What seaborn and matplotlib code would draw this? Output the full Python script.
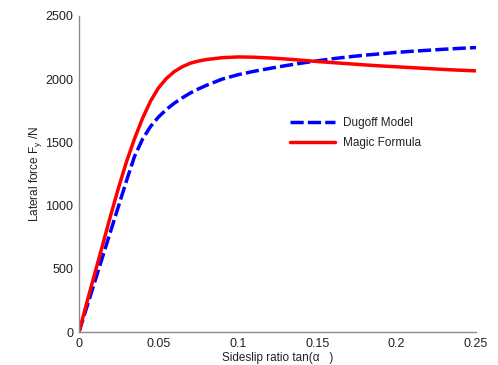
import numpy as np
import pandas as pd
import matplotlib
matplotlib.use("Agg")
import matplotlib.pyplot as plt
import seaborn as sns

# Sideslip ratio samples and lateral tyre force for each model
slip_magic = [0, 0.005, 0.01, 0.015, 0.02, 0.025, 0.03, 0.035, 0.04, 0.045, 0.05,
              0.055, 0.06, 0.065, 0.07, 0.075, 0.08, 0.09, 0.1, 0.11, 0.12, 0.13,
              0.14, 0.15, 0.16, 0.17, 0.18, 0.19, 0.2, 0.21, 0.22, 0.23, 0.24, 0.25]
force_magic = [0, 235, 465, 695, 925, 1145, 1350, 1530, 1690, 1825, 1930,
               2005, 2060, 2098, 2126, 2143, 2155, 2170, 2176, 2174, 2168, 2160,
               2150, 2140, 2131, 2122, 2113, 2105, 2098, 2091, 2084, 2077, 2071, 2066]

slip_dugoff = [0, 0.005, 0.01, 0.015, 0.02, 0.025, 0.03, 0.035, 0.04, 0.045, 0.05,
               0.055, 0.06, 0.065, 0.07, 0.075, 0.08, 0.09, 0.1, 0.11, 0.12, 0.13,
               0.14, 0.15, 0.16, 0.17, 0.18, 0.19, 0.2, 0.21, 0.22, 0.23, 0.24, 0.25]
force_dugoff = [0, 200, 400, 600, 800, 1000, 1200, 1390, 1525, 1625, 1700,
                1760, 1810, 1852, 1890, 1922, 1950, 2000, 2035, 2062, 2085, 2107,
                2127, 2145, 2162, 2177, 2190, 2201, 2212, 2221, 2229, 2237, 2244, 2250]

xticks = [0, 0.05, 0.1, 0.15, 0.2, 0.25]
xtick_labels = ["0", "0.05", "0.1", "0.15", "0.2", "0.25"]
yticks = [0, 500, 1000, 1500, 2000, 2500]

sns.set_style("white")
plt.rcParams["font.family"] = ["Liberation Sans", "DejaVu Sans"]

fig = plt.figure(figsize=(4.98, 3.65), dpi=100)
ax = fig.add_axes([0.1586, 0.0904, 0.7972, 0.8658])

df_d = pd.DataFrame({"slip": slip_dugoff, "force": force_dugoff})
df_m = pd.DataFrame({"slip": slip_magic, "force": force_magic})

sns.lineplot(data=df_d, x="slip", y="force", ax=ax, color="#0000ff",
             linewidth=2.5, label="Dugoff Model")
ax.lines[-1].set_dashes([3.8, 1.2])
sns.lineplot(data=df_m, x="slip", y="force", ax=ax, color="#ff0000",
             linewidth=2.5, label="Magic Formula")

ax.set_xlim(0, 0.25)
ax.set_ylim(0, 2500)
ax.set_xticks(xticks)
ax.set_xticklabels(xtick_labels)
ax.set_yticks(yticks)

spine_col = "#8c8c8c"
for side in ["top", "right"]:
    ax.spines[side].set_visible(False)
for side in ["left", "bottom"]:
    ax.spines[side].set_color(spine_col)
    ax.spines[side].set_linewidth(1.0)

ax.tick_params(axis="both", direction="in", length=3, width=0.8,
               color=spine_col, labelsize=9, labelcolor="#222222", pad=4)

ax.set_xlabel("Sideslip ratio tan(\u03b1   )", fontsize=8.5, color="#222222", labelpad=2)
ax.set_ylabel("Lateral force F$_\\mathregular{y}$ /N", fontsize=8.5, color="#222222",
              labelpad=1)

leg = ax.legend(loc="center left", bbox_to_anchor=(0.531, 0.63), frameon=False,
                fontsize=8.5, handlelength=3.8, borderpad=0, borderaxespad=0,
                labelspacing=0.7, handletextpad=0.7)
for t in leg.get_texts():
    t.set_color("#222222")

fig.savefig("out.png", dpi=100)
